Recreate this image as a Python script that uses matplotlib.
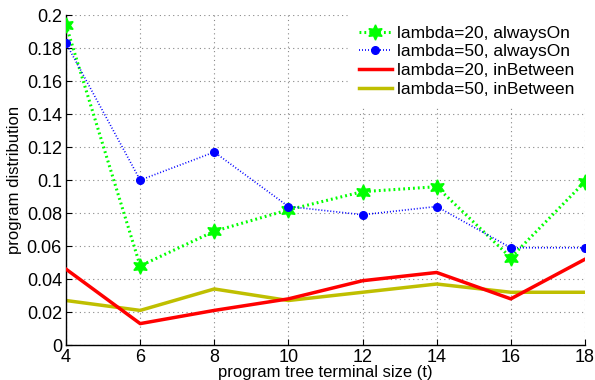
import numpy as np
import matplotlib
matplotlib.use('Agg')
import matplotlib.pyplot as plt
from matplotlib.ticker import FuncFormatter

# terminal sizes and program distributions
sizes = [4, 6, 8, 10, 12, 14, 16, 18]
l20_always = [0.194, 0.048, 0.069, 0.082, 0.093, 0.096, 0.053, 0.099]
l50_always = [0.183, 0.100, 0.117, 0.084, 0.079, 0.084, 0.059, 0.059]
l20_between = [0.046, 0.013, 0.021, 0.028, 0.039, 0.044, 0.028, 0.052]
l50_between = [0.027, 0.021, 0.034, 0.027, 0.032, 0.037, 0.032, 0.032]
yticks = [0, 0.02, 0.04, 0.06, 0.08, 0.1, 0.12, 0.14, 0.16, 0.18, 0.2]

plt.rc('font', **{'family': 'sans-serif', 'sans-serif': ['Liberation Sans', 'DejaVu Sans']})
plt.rc('font', **{'size': 13})

fig, ax = plt.subplots(figsize=(5.95, 3.8), dpi=100)

hexagram = (6, 1, 0)
ax.plot(sizes, l20_always, color='#00ff00', linestyle=(0, (0.6, 1.0)), linewidth=2.2,
        marker=hexagram, markersize=11, markerfacecolor='#00ff00', markeredgecolor='#00ff00',
        label='lambda=20, alwaysOn', zorder=3)
ax.plot(sizes, l50_always, color='#0000ff', linestyle=(0, (0.6, 1.2)), linewidth=1.2,
        marker='o', markersize=5.5, markerfacecolor='#0000ff', markeredgecolor='#0000ff',
        label='lambda=50, alwaysOn', zorder=4)
ax.plot(sizes, l20_between, color='#ff0000', linewidth=2.5, label='lambda=20, inBetween', zorder=3)
ax.plot(sizes, l50_between, color='#bfbf00', linewidth=2.5, label='lambda=50, inBetween', zorder=2)

ax.set_xlim(4, 18)
ax.set_ylim(0, 0.2)
ax.set_xticks(sizes)
ax.set_yticks(yticks)
ax.yaxis.set_major_formatter(FuncFormatter(lambda v, p: '%g' % round(v, 2)))
ax.tick_params(axis='both', direction='in', length=4, labelsize=13, pad=3)
ax.grid(True, color='#888888', linestyle=(0, (1, 3)), linewidth=0.8)
ax.spines['top'].set_visible(False)
ax.spines['right'].set_visible(False)
ax.spines['left'].set_linewidth(1.0)
ax.spines['bottom'].set_linewidth(1.0)

ax.set_xlabel('program tree terminal size (t)', fontsize=12, labelpad=-1)
ax.set_ylabel('program distribution', fontsize=12, labelpad=3)

leg = ax.legend(loc='upper right', fontsize=12.5, frameon=True, fancybox=False,
                borderaxespad=0.0, handlelength=1.9, handletextpad=0.3, labelspacing=0.2,
                borderpad=0.6)
leg.get_frame().set_edgecolor('white')
leg.get_frame().set_facecolor('white')
leg.get_frame().set_alpha(1.0)

plt.subplots_adjust(left=0.111, bottom=0.092, right=0.983, top=0.96)
plt.savefig('out.png', dpi=100)
